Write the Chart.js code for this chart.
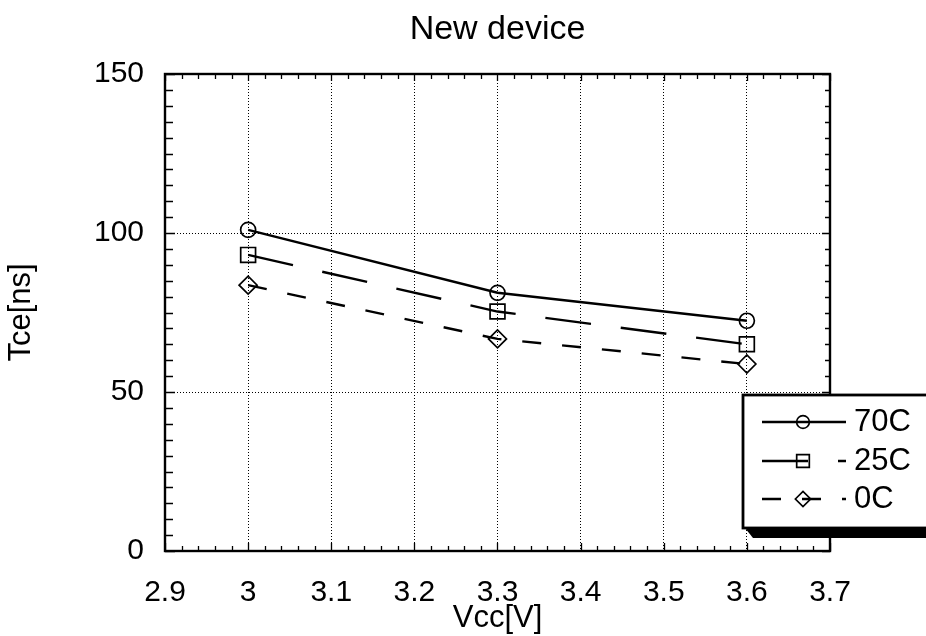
<!DOCTYPE html>
<html>
<head>
<meta charset="utf-8">
<title>New device</title>
<style>
  html, body { margin: 0; padding: 0; background: #fff; }
  canvas { display: block; }
</style>
<script src="https://cdn.jsdelivr.net/npm/chart.js@4.4.1/dist/chart.umd.min.js"></script>
</head>
<body>
<canvas id="chart" width="926" height="636"></canvas>
<script>
// Supply voltage (V) and access time Tce (ns) per temperature
const vcc = [3.0, 3.3, 3.6];
const tce70 = [101.0, 81.2, 72.4];
const tce25 = [93.1, 75.3, 65.0];
const tce0 = [83.6, 66.7, 58.8];
const seriesNames = ['70C', '25C', '0C'];

// Axis ticks
const xTickValues = [2.9, 3.0, 3.1, 3.2, 3.3, 3.4, 3.5, 3.6, 3.7];
const xTickLabels = ['2.9', '3', '3.1', '3.2', '3.3', '3.4', '3.5', '3.6', '3.7'];
const yTickValues = [0, 50, 100, 150];

const FONT = '"Liberation Sans", Arial, Helvetica, sans-serif';
Chart.defaults.font.family = FONT;
Chart.defaults.color = '#000';

const toPoints = ys => vcc.map((x, i) => ({ x: x, y: ys[i] }));

const seriesStyle = [
  { dash: [], pointStyle: 'circle', radius: 7.5 },
  { dash: [46, 30], pointStyle: 'rect', radius: 10.5 },
  { dash: [19, 21], pointStyle: 'rectRot', radius: 9 }
];

const datasets = [tce70, tce25, tce0].map((ys, i) => ({
  label: seriesNames[i],
  data: toPoints(ys),
  borderColor: '#000',
  borderWidth: 2.4,
  borderDash: seriesStyle[i].dash,
  pointStyle: seriesStyle[i].pointStyle,
  pointRadius: seriesStyle[i].radius,
  pointHoverRadius: seriesStyle[i].radius,
  pointBorderWidth: 1.7,
  pointBorderColor: '#000',
  pointBackgroundColor: 'rgba(0,0,0,0)',
  fill: false,
  tension: 0
}));

// Plot frame with inward minor tick marks on all four sides
const framePlugin = {
  id: 'frame',
  afterDatasetsDraw(chart) {
    const { ctx, chartArea: a, scales: { x, y } } = chart;
    ctx.save();
    ctx.strokeStyle = '#000';
    ctx.lineWidth = 1.3;
    ctx.setLineDash([]);
    ctx.beginPath();
    // x minor ticks every 0.02, longer at every 0.1
    for (let i = 0; i <= 40; i++) {
      const px = Math.round(x.getPixelForValue(2.9 + i * 0.02)) + 0.5;
      const major = i % 5 === 0;
      ctx.moveTo(px, a.top); ctx.lineTo(px, a.top + (major ? 7 : 5));
      ctx.moveTo(px, a.bottom); ctx.lineTo(px, a.bottom - (major ? 8 : 5));
    }
    // y minor ticks every 5
    for (let i = 0; i <= 30; i++) {
      const py = Math.round(y.getPixelForValue(i * 5)) + 0.5;
      const major = i % 10 === 0;
      ctx.moveTo(a.left, py); ctx.lineTo(a.left + (major ? 10 : 8), py);
      ctx.moveTo(a.right, py); ctx.lineTo(a.right - (major ? 8 : 5), py);
    }
    ctx.stroke();
    ctx.lineWidth = 2.4;
    ctx.strokeRect(a.left, a.top, a.right - a.left, a.bottom - a.top);
    ctx.restore();
  }
};

// Boxed legend with a drop shadow at the lower right of the plot
const boxLegendPlugin = {
  id: 'boxLegend',
  afterDraw(chart) {
    const { ctx } = chart;
    const box = { left: 743, top: 395, right: 940, bottom: 528 };
    const rows = [422, 461, 499];
    ctx.save();
    // shadow
    ctx.fillStyle = '#000';
    ctx.beginPath();
    ctx.moveTo(box.left + 2, box.bottom);
    ctx.lineTo(box.right + 10, box.bottom);
    ctx.lineTo(box.right + 10, box.bottom + 10);
    ctx.lineTo(box.left + 10, box.bottom + 10);
    ctx.closePath();
    ctx.fill();
    // box
    ctx.fillStyle = '#fff';
    ctx.fillRect(box.left, box.top, box.right - box.left, box.bottom - box.top);
    ctx.strokeStyle = '#000';
    ctx.lineWidth = 2.8;
    ctx.strokeRect(box.left, box.top, box.right - box.left, box.bottom - box.top);

    chart.data.datasets.forEach((ds, i) => {
      const yy = rows[i];
      ctx.strokeStyle = '#000';
      ctx.lineWidth = 2.4;
      ctx.setLineDash(ds.borderDash || []);
      ctx.beginPath();
      ctx.moveTo(762, yy);
      ctx.lineTo(846, yy);
      ctx.stroke();
      ctx.setLineDash([]);
      ctx.fillStyle = 'rgba(0,0,0,0)';
      ctx.lineWidth = ds.pointBorderWidth;
      Chart.helpers.drawPoint(ctx, {
        pointStyle: ds.pointStyle,
        radius: ds.pointRadius * 0.85,
        borderWidth: ds.pointBorderWidth,
        rotation: 0
      }, 803, yy);
      ctx.fillStyle = '#000';
      ctx.font = '31px ' + FONT;
      ctx.textAlign = 'left';
      ctx.textBaseline = 'middle';
      ctx.fillText(ds.label, 854, yy);
    });
    ctx.restore();
  }
};

const edgeColor = (count) => (c) =>
  (c.index === 0 || c.index === count - 1) ? 'rgba(0,0,0,0)' : '#000';

new Chart(document.getElementById('chart'), {
  type: 'line',
  data: { datasets: datasets },
  options: {
    responsive: false,
    animation: false,
    devicePixelRatio: 1,
    layout: { padding: { left: 0, right: 96, top: 0, bottom: 0 } },
    plugins: {
      legend: { display: false },
      tooltip: { enabled: false },
      title: {
        display: true,
        text: 'New device',
        fullSize: false,
        color: '#000',
        font: { size: 34, weight: 'normal', lineHeight: 1.2 },
        padding: { top: 9, bottom: 24.2 }
      }
    },
    scales: {
      x: {
        type: 'linear',
        min: 2.9,
        max: 3.7,
        afterBuildTicks: s => { s.ticks = xTickValues.map(v => ({ value: v })); },
        afterFit: s => { s.height = 85; },
        ticks: {
          callback: (v, i) => xTickLabels[i],
          padding: 24,
          autoSkip: false,
          maxRotation: 0,
          font: { size: 30 },
          color: '#000'
        },
        grid: { color: edgeColor(xTickValues.length), lineWidth: 1, drawTicks: false },
        border: { display: false, dash: [1, 2] },
        title: {
          display: true,
          text: 'Vcc[V]',
          color: '#000',
          font: { size: 31, lineHeight: 1 },
          padding: { top: 0, bottom: 2 }
        }
      },
      y: {
        min: 0,
        max: 150,
        afterBuildTicks: s => { s.ticks = yTickValues.map(v => ({ value: v })); },
        afterFit: s => { s.width = 165; },
        ticks: { padding: 21, font: { size: 30 }, color: '#000' },
        grid: { color: edgeColor(yTickValues.length), lineWidth: 1, drawTicks: false },
        border: { display: false, dash: [1, 2] },
        title: {
          display: true,
          text: 'Tce[ns]',
          color: '#000',
          font: { size: 31 },
          padding: { top: 3, bottom: 0 }
        }
      }
    }
  },
  plugins: [framePlugin, boxLegendPlugin]
});
</script>
</body>
</html>
